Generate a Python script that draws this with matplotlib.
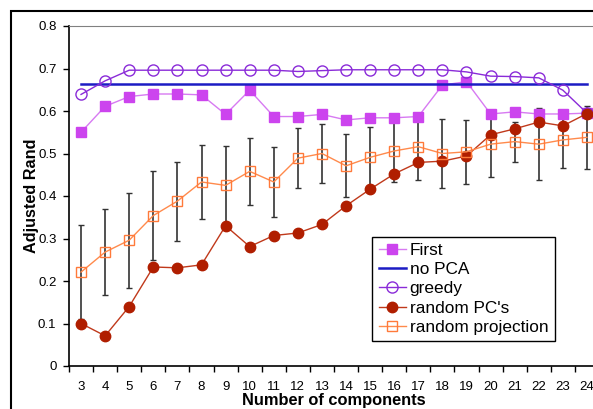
import numpy as np
import matplotlib
matplotlib.use("Agg")
import matplotlib.pyplot as plt
from matplotlib.patches import Rectangle
from matplotlib.ticker import FixedLocator

plt.rcParams["font.family"] = ["Liberation Sans", "DejaVu Sans"]

# ---------------------------------------------------------
# Data
# ---------------------------------------------------------
components = list(range(3, 25))

first = [0.550, 0.611, 0.634, 0.640, 0.640, 0.638, 0.592, 0.649, 0.587, 0.587, 0.592,
         0.579, 0.584, 0.584, 0.587, 0.661, 0.669, 0.593, 0.598, 0.593, 0.593, 0.595]

no_pca = 0.664

greedy = [0.639, 0.671, 0.696, 0.696, 0.696, 0.696, 0.696, 0.696, 0.696, 0.693, 0.695,
          0.697, 0.697, 0.697, 0.697, 0.697, 0.692, 0.682, 0.681, 0.678, 0.649, 0.595]

random_pcs = [0.100, 0.071, 0.140, 0.233, 0.231, 0.238, 0.330, 0.281, 0.307, 0.313, 0.333,
              0.377, 0.416, 0.452, 0.479, 0.482, 0.494, 0.544, 0.558, 0.574, 0.565, 0.594]

random_proj = [0.221, 0.268, 0.296, 0.354, 0.388, 0.433, 0.425, 0.458, 0.433, 0.489, 0.500,
               0.471, 0.491, 0.506, 0.516, 0.500, 0.504, 0.522, 0.528, 0.522, 0.532, 0.538]

random_proj_err = [0.110, 0.101, 0.112, 0.105, 0.093, 0.086, 0.093, 0.079, 0.083, 0.070, 0.069,
                   0.074, 0.071, 0.073, 0.078, 0.082, 0.076, 0.077, 0.047, 0.084, 0.066, 0.074]

y_ticks = [0, 0.1, 0.2, 0.3, 0.4, 0.5, 0.6, 0.7, 0.8]
y_tick_labels = ["0", "0.1", "0.2", "0.3", "0.4", "0.5", "0.6", "0.7", "0.8"]

# ---------------------------------------------------------
# Figure
# ---------------------------------------------------------
fig = plt.figure(figsize=(5.93, 4.09), dpi=100)
ax = fig.add_axes([69 / 593, 43 / 409, 530 / 593, 340 / 409])

# outer chart frame
fig.patches.append(Rectangle((11 / 593, -0.1), 1.2, (409 - 11) / 409 + 0.1,
                             transform=fig.transFigure, fill=False,
                             edgecolor="black", linewidth=1.5, zorder=0))

ax.errorbar(components, random_proj, yerr=random_proj_err, fmt="none",
            ecolor="#333333", elinewidth=1.2, capsize=2.5, capthick=1.0, zorder=2)

ax.plot(components, first, color="#D77AF2", linewidth=1.0, marker="s",
        markersize=7, markerfacecolor="#CC44EE", markeredgecolor="#CC44EE",
        label="First", zorder=3)
ax.plot([components[0], components[-1]], [no_pca, no_pca], color="#1C1CC4",
        linewidth=1.8, label="no PCA", zorder=3)
ax.plot(components, greedy, color="#8A2BD8", linewidth=1.0, marker="o",
        markersize=8, markerfacecolor="none", markeredgecolor="#8A2BD8",
        markeredgewidth=1.0, label="greedy", zorder=4)
ax.plot(components, random_pcs, color="#C0391B", linewidth=1.0, marker="o",
        markersize=7.5, markerfacecolor="#B01E00", markeredgecolor="#B01E00",
        label="random PC's", zorder=5)
ax.plot(components, random_proj, color="#FF8A4C", linewidth=1.0, marker="s",
        markersize=6.5, markerfacecolor="none", markeredgecolor="#FF7A3A",
        markeredgewidth=1.0, label="random projection", zorder=6)

ax.set_xlim(2.5, 24.5)
ax.set_ylim(0, 0.8)
ax.set_yticks(y_ticks)
ax.set_yticklabels(y_tick_labels)
ax.set_xticks(components)
ax.xaxis.set_minor_locator(FixedLocator(np.arange(2.5, 25, 1)))
ax.tick_params(axis="x", which="major", length=0, pad=11, labelsize=9.5)
ax.tick_params(axis="x", which="minor", length=4, width=1, direction="out")
ax.tick_params(axis="y", length=4, width=1, direction="out", pad=5, labelsize=9.5)

ax.spines["top"].set_color("#808080")
ax.spines["right"].set_visible(False)
ax.spines["left"].set_linewidth(1.2)
ax.spines["bottom"].set_linewidth(1.2)

ax.set_ylabel("Adjusted Rand", fontsize=11.7, fontweight="bold")
ax.yaxis.set_label_coords(-0.056, 0.5)
ax.set_xlabel("Number of components", fontsize=11.8, fontweight="bold", labelpad=0)

leg = ax.legend(loc="upper left", bbox_to_anchor=((372 - 69) / 530, (366 - 236.5) / 340),
                fontsize=12.4, frameon=True, fancybox=False, edgecolor="black",
                framealpha=1, borderpad=0.38, labelspacing=0.24, handlelength=1.6,
                handletextpad=0.2, borderaxespad=0)
leg.get_frame().set_linewidth(1.0)

fig.savefig("out.png", dpi=100)
